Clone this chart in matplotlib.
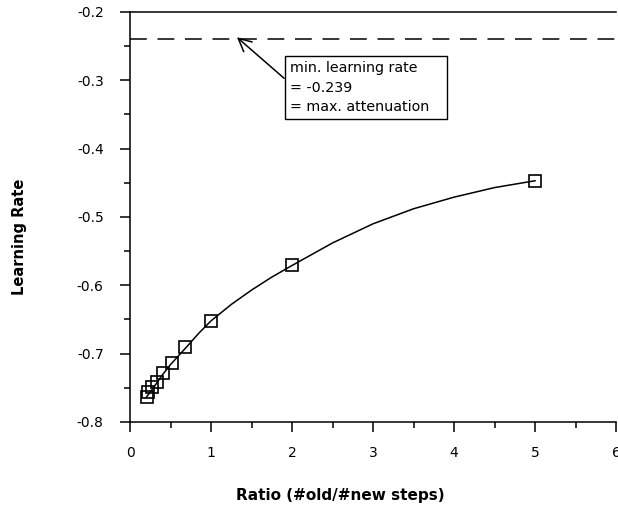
import numpy as np
import matplotlib.pyplot as plt
from matplotlib.ticker import MultipleLocator, FormatStrFormatter

plt.rcParams['font.family'] = ['DejaVu Sans']

# measured points (ratio old/new steps, learning rate)
ratio = [0.21, 0.22, 0.27, 0.33, 0.41, 0.52, 0.68, 1.0, 2.0, 5.0]
rate = [-0.763, -0.756, -0.749, -0.741, -0.728, -0.714, -0.690, -0.652, -0.570, -0.447]

# fitted curve
curve_x = [0.2, 0.3, 0.4, 0.5, 0.7, 0.85, 1.0, 1.25, 1.5, 1.75, 2.0, 2.5, 3.0, 3.5, 4.0, 4.5, 5.0]
curve_y = [-0.764, -0.748, -0.731, -0.716, -0.690, -0.670, -0.652, -0.628, -0.607, -0.588,
           -0.571, -0.538, -0.510, -0.488, -0.471, -0.457, -0.447]

min_rate = -0.239

fig = plt.figure(figsize=(6.18, 5.05), dpi=100)
ax = fig.add_axes([0.2104, 0.1644, 0.7864, 0.8119])

ax.plot(curve_x, curve_y, color='black', lw=1.1)
ax.plot(ratio, rate, ls='none', marker='s', ms=8, mfc='none', mec='black', mew=1.2)
ax.axhline(min_rate, color='black', lw=1.1, dashes=(11, 7))

ax.annotate('min. learning rate   \n= -0.239\n= max. attenuation   ',
            xy=(1.32, min_rate + 0.002), xytext=(1.97, -0.311),
            fontsize=10.3, va='center', ha='left', linespacing=1.5,
            bbox=dict(boxstyle='square,pad=0.35', fc='white', ec='black', lw=1),
            arrowprops=dict(arrowstyle='->,head_length=0.9,head_width=0.45',
                            color='black', lw=1.1, shrinkA=0, shrinkB=0,
                            relpos=(0, 0.59)))

ax.set_xlim(0, 6)
ax.set_ylim(-0.8, -0.2)
ax.xaxis.set_major_locator(MultipleLocator(1))
ax.xaxis.set_minor_locator(MultipleLocator(0.5))
ax.yaxis.set_major_locator(MultipleLocator(0.1))
ax.yaxis.set_minor_locator(MultipleLocator(0.05))
ax.yaxis.set_major_formatter(FormatStrFormatter('%.1f'))
ax.tick_params(which='both', direction='out', labelsize=10, width=1.1)
ax.tick_params(which='major', length=7)
ax.tick_params(which='minor', length=4.3)
ax.tick_params(axis='x', which='major', pad=10)
ax.tick_params(axis='y', which='major', pad=12)
ax.spines['right'].set_visible(False)
for s in ['left', 'top', 'bottom']:
    ax.spines[s].set_linewidth(1.1)

ax.set_xlabel('Ratio (#old/#new steps)', fontsize=11, fontweight='bold')
ax.set_ylabel('Learning Rate', fontsize=10.5, fontweight='bold')
ax.xaxis.set_label_coords(0.432, -0.161)
ax.yaxis.set_label_coords(-0.212, 0.451)

fig.savefig('out.png', dpi=100)
